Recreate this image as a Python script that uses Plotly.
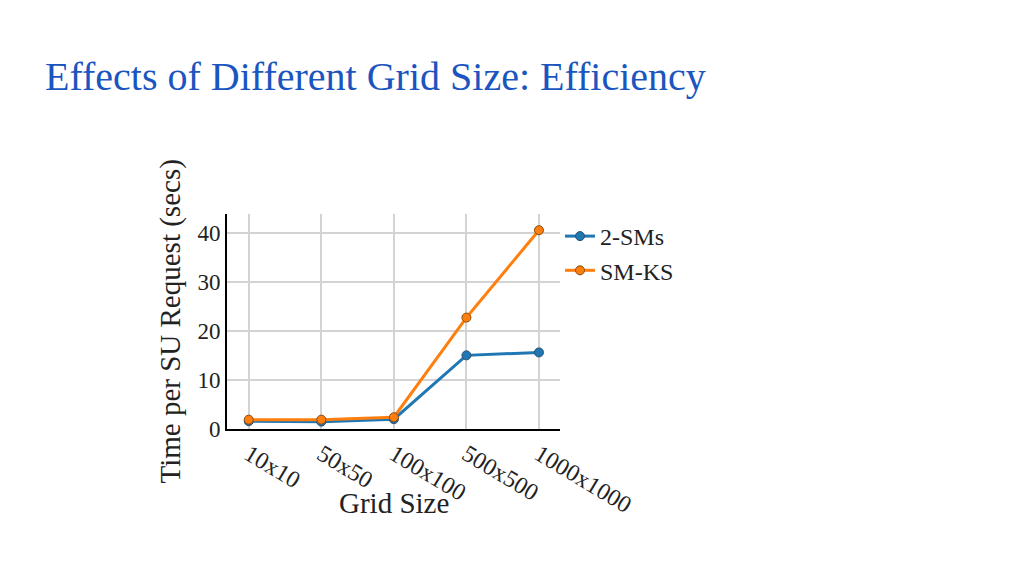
import plotly.graph_objects as go

categories = ["10x10", "50x50", "100x100", "500x500", "1000x1000"]
sms2 = [1.6, 1.5, 2.0, 15.0, 15.6]
smks = [1.9, 1.9, 2.4, 22.7, 40.5]
yticks = [0, 10, 20, 30, 40]

serif = "Liberation Serif, Times New Roman, serif"
OFF = 8  # page body margin

fig = go.Figure()
fig.add_trace(go.Scatter(x=categories, y=sms2, name="2-SMs", mode="lines+markers",
                         line=dict(color="#1f77b4", width=3),
                         marker=dict(size=9, color="#1f77b4", line=dict(color="#2a4f6e", width=1))))
fig.add_trace(go.Scatter(x=categories, y=smks, name="SM-KS", mode="lines+markers",
                         line=dict(color="#ff7f0e", width=3),
                         marker=dict(size=9, color="#ff7f0e", line=dict(color="#8a4a10", width=1))))

fig.update_layout(
    width=1024, height=576,
    margin=dict(l=227-OFF, r=464+OFF, t=214-OFF, b=147+OFF),
    paper_bgcolor="white", plot_bgcolor="white",
    font=dict(family=serif, color="#222222", size=22),
    title=dict(text="Effects of Different Grid Size: Efficiency",
               x=(45-OFF)/1024, xanchor="left", xref="container",
               y=1-(76-OFF)/576, yanchor="middle", yref="container",
               font=dict(family=serif, size=40, color="#1a55c0")),
    legend=dict(x=1.0, y=1.0, xanchor="left", yanchor="top",
                font=dict(family=serif, size=24, color="#222222"),
                tracegroupgap=4, itemwidth=30, bgcolor="rgba(0,0,0,0)"),
    showlegend=True,
    annotations=[
        dict(text="Grid Size", xref="paper", yref="paper", x=0.5, y=-(503-429)/215,
             xanchor="center", yanchor="middle", showarrow=False,
             font=dict(family=serif, size=29, color="#222222")),
        dict(text="Time per SU Request (secs)", xref="paper", yref="paper",
             x=-(227-170)/333, y=0.5, xanchor="center", yanchor="middle",
             textangle=-90, showarrow=False,
             font=dict(family=serif, size=29, color="#222222")),
    ],
)
fig.update_xaxes(
    type="category", range=[-0.3, 4.29],
    showgrid=True, gridcolor="#d3d3d3", gridwidth=1.5,
    showline=True, linecolor="black", linewidth=2,
    tickangle=31, tickfont=dict(size=24, family=serif),
    zeroline=False,
)
fig.update_yaxes(
    range=[0, 43.8], tickvals=yticks,
    showgrid=True, gridcolor="#d3d3d3", gridwidth=1.5,
    showline=True, linecolor="black", linewidth=2,
    tickfont=dict(size=23, family=serif),
    zeroline=False, ticks="", ticklen=0,
)

fig.write_html("out.html")
